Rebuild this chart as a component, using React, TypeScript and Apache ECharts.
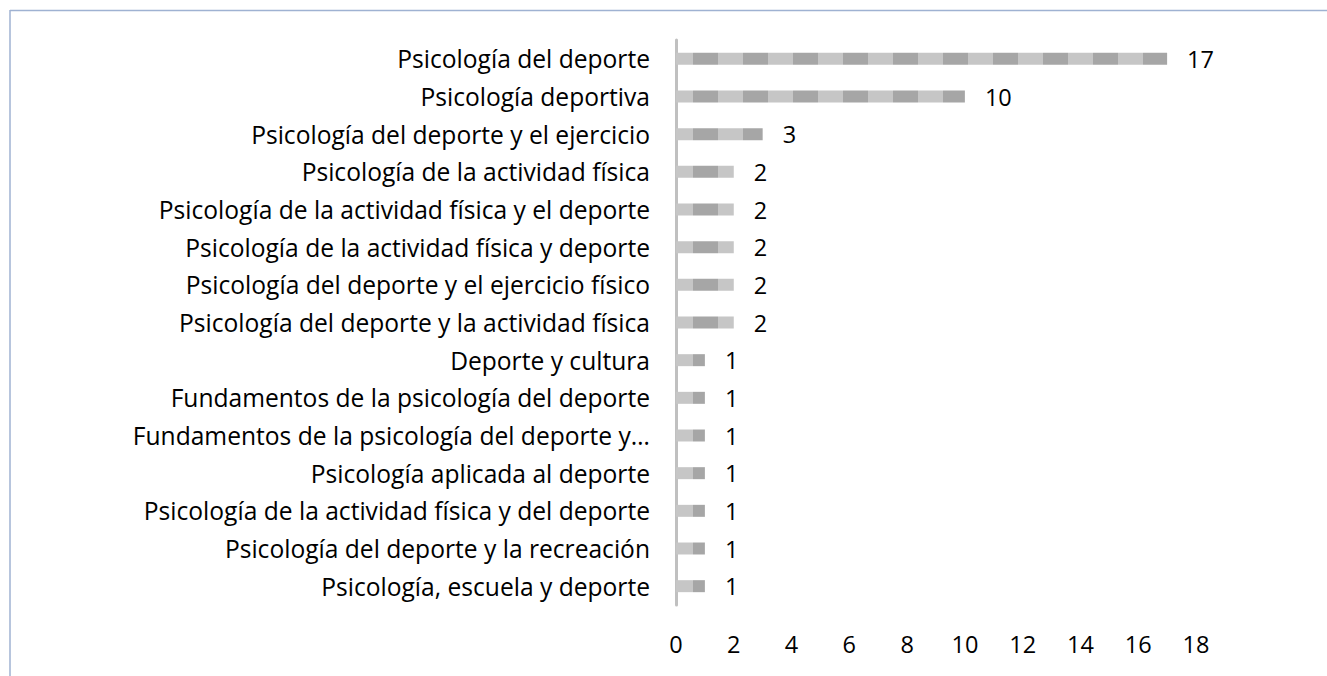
import React, { useEffect, useRef } from "react";
import * as echarts from "echarts";

const categories = [
  "Psicología del deporte",
  "Psicología deportiva",
  "Psicología del deporte y el ejercicio",
  "Psicología de la actividad física",
  "Psicología de la actividad física y el deporte",
  "Psicología de la actividad física y deporte",
  "Psicología del deporte y el ejercicio físico",
  "Psicología del deporte y la actividad física",
  "Deporte y cultura",
  "Fundamentos de la psicología del deporte",
  "Fundamentos de la psicología del deporte y…",
  "Psicología aplicada al deporte",
  "Psicología de la actividad física y del deporte",
  "Psicología del deporte y la recreación",
  "Psicología, escuela y deporte",
];
const values = [17, 10, 3, 2, 2, 2, 2, 2, 1, 1, 1, 1, 1, 1, 1];
const xMin = 0;
const xMax = 18;
const xInterval = 2;

const FONT = "'Open Sans', sans-serif";
const FS_CAT = 24.6;
const FS_NUM = 23.5;

function makePattern() {
  const c = document.createElement("canvas");
  c.width = 50;
  c.height = 50;
  const ctx = c.getContext("2d")!;
  ctx.fillStyle = "#c6c6c6";
  ctx.fillRect(0, 0, 50, 50);
  ctx.fillStyle = "#a6a6a6";
  ctx.fillRect(0, 0, 18, 50);
  ctx.fillRect(43, 0, 7, 50);
  return c;
}

export default function App() {
  const ref = useRef<HTMLDivElement>(null);
  useEffect(() => {
    document.body.style.margin = "0";
    const chart = echarts.init(ref.current!, null, { renderer: "svg" });
    const pattern = makePattern();
    chart.setOption({
      animation: false,
      backgroundColor: "#ffffff",
      textStyle: { fontFamily: FONT },
      graphic: [
        {
          type: "line",
          shape: { x1: 10, y1: 10.5, x2: 1327, y2: 10.5 },
          style: { stroke: "#9fb2d2", lineWidth: 1.5 },
        },
        {
          type: "line",
          shape: { x1: 10, y1: 10, x2: 10, y2: 676 },
          style: { stroke: "#9fb2d2", lineWidth: 1.5 },
        },
      ],
      grid: { left: 676, top: 40, width: 520, height: 565, containLabel: false },
      xAxis: {
        type: "value",
        min: xMin,
        max: xMax,
        interval: xInterval,
        axisLine: { show: false },
        axisTick: { show: false },
        splitLine: { show: false },
        axisLabel: { color: "#000", fontSize: FS_NUM, fontFamily: FONT, margin: 27 },
      },
      yAxis: {
        type: "category",
        data: categories,
        inverse: true,
        axisLine: { show: true, lineStyle: { color: "#c0c0c0", width: 3 } },
        axisTick: { show: false },
        axisLabel: { color: "#000", fontSize: FS_CAT, fontFamily: FONT, margin: 26 },
      },
      series: [
        {
          type: "bar",
          data: values,
          barWidth: 12,
          itemStyle: {
            color: { image: pattern, repeat: "repeat", imageWidth: 50, imageHeight: 50 },
          },
          label: {
            show: true,
            position: "right",
            distance: 20,
            color: "#000",
            fontSize: FS_NUM,
            fontFamily: FONT,
          },
        },
      ],
    });
    return () => chart.dispose();
  }, []);
  return <div ref={ref} style={{ width: 1327, height: 676 }} />;
}
